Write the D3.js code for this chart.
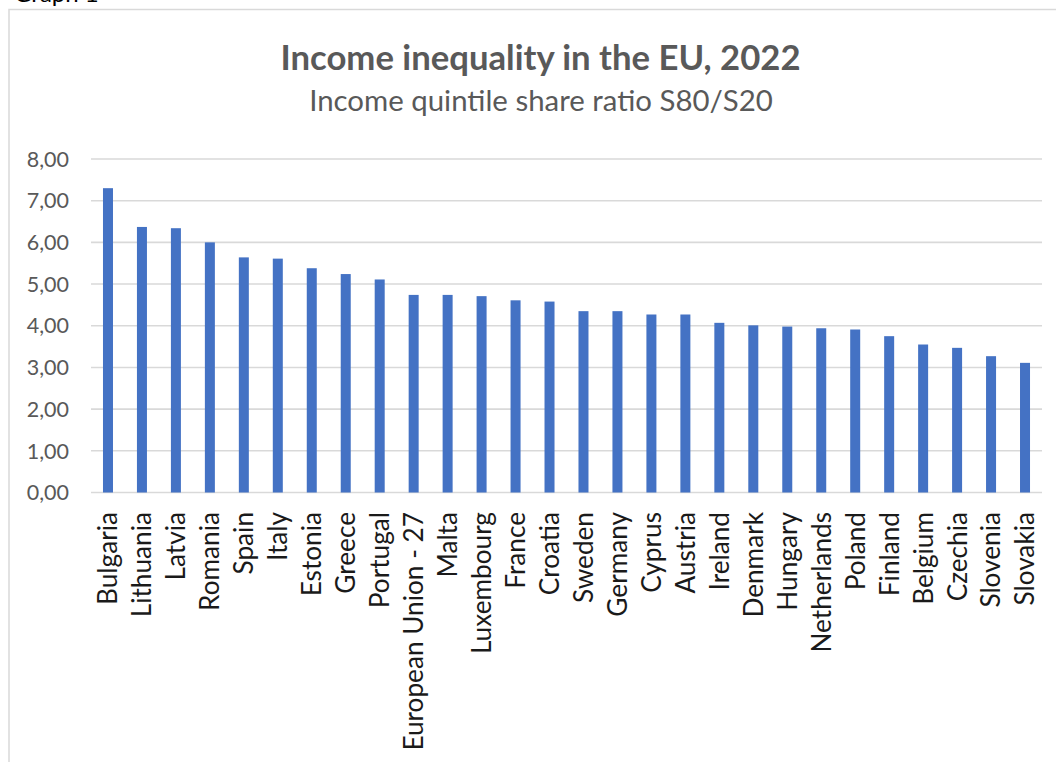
<!DOCTYPE html>
<html>
<head>
<meta charset="utf-8">
<script src="https://cdn.jsdelivr.net/npm/d3@7"></script>
<style>
  html, body { margin: 0; padding: 0; background: #fff; }
  svg { display: block; }
</style>
</head>
<body>
<svg id="chart" width="1056" height="762"></svg>
<script>
// S80/S20 income quintile share ratio, EU member states, 2022
const countries = [
  "Bulgaria", "Lithuania", "Latvia", "Romania", "Spain", "Italy", "Estonia",
  "Greece", "Portugal", "European Union - 27", "Malta", "Luxembourg", "France",
  "Croatia", "Sweden", "Germany", "Cyprus", "Austria", "Ireland", "Denmark",
  "Hungary", "Netherlands", "Poland", "Finland", "Belgium", "Czechia",
  "Slovenia", "Slovakia"
];
const ratios = [
  7.30, 6.37, 6.34, 6.00, 5.64, 5.61, 5.38,
  5.24, 5.11, 4.74, 4.74, 4.71, 4.61,
  4.58, 4.35, 4.35, 4.27, 4.27, 4.07, 4.01,
  3.98, 3.94, 3.91, 3.75, 3.55, 3.47,
  3.27, 3.11
];
const yTicks = [0, 1, 2, 3, 4, 5, 6, 7, 8];

const title = "Income inequality in the EU, 2022";
const subtitle = "Income quintile share ratio S80/S20";

const FONT = "Lato, 'Open Sans', sans-serif";
const svg = d3.select("#chart");

// caption running off the top edge of the sheet
svg.append("text")
  .attr("x", 14).attr("y", 1.5)
  .attr("font-family", FONT).attr("font-size", 24)
  .attr("fill", "#000")
  .text("Graph 1");

// chart area frame (top and left edges visible)
svg.append("path")
  .attr("d", "M9,770 L9,9.5 L1070,9.5")
  .attr("fill", "none")
  .attr("stroke", "#d9d9d9")
  .attr("stroke-width", 1.5);

const plot = { left: 91, right: 1042, top: 159, bottom: 492.5 };

const x = d3.scaleBand()
  .domain(countries)
  .range([plot.left, plot.right])
  .paddingInner(0.7055)
  .paddingOuter(0.7055 / 2);

const y = d3.scaleLinear()
  .domain([0, 8])
  .range([plot.bottom, plot.top]);

// horizontal gridlines
svg.append("g")
  .selectAll("line")
  .data(yTicks)
  .join("line")
  .attr("x1", plot.left).attr("x2", plot.right)
  .attr("y1", d => y(d)).attr("y2", d => y(d))
  .attr("stroke", "#d9d9d9")
  .attr("stroke-width", 1.6);

// y-axis labels, decimal comma
const fmt = d => d3.format(".2f")(d).replace(".", ",");
svg.append("g")
  .selectAll("text")
  .data(yTicks)
  .join("text")
  .attr("x", 69)
  .attr("y", d => y(d))
  .attr("dy", "0.36em")
  .attr("text-anchor", "end")
  .attr("font-family", FONT)
  .attr("font-size", 21.5)
  .attr("fill", "#595959")
  .text(fmt);

// bars
const rows = countries.map((c, i) => ({ country: c, value: ratios[i] }));
svg.append("g")
  .selectAll("rect")
  .data(rows)
  .join("rect")
  .attr("x", d => x(d.country))
  .attr("width", x.bandwidth())
  .attr("y", d => y(d.value))
  .attr("height", d => y(0) - y(d.value))
  .attr("fill", "#4472c4");

// category labels, rotated
svg.append("g")
  .selectAll("text")
  .data(countries)
  .join("text")
  .attr("transform", d => `translate(${x(d) + x.bandwidth() / 2},512) rotate(-90)`)
  .attr("dy", "0.36em")
  .attr("text-anchor", "end")
  .attr("font-family", FONT)
  .attr("font-size", 26.2)
  .attr("fill", "#1a1a1a")
  .text(d => d);

// titles
svg.append("text")
  .attr("x", 540.5).attr("y", 70)
  .attr("text-anchor", "middle")
  .attr("font-family", FONT)
  .attr("font-weight", "bold")
  .attr("font-size", 34.7)
  .attr("fill", "#595959")
  .text(title);

svg.append("text")
  .attr("x", 541).attr("y", 111)
  .attr("text-anchor", "middle")
  .attr("font-family", FONT)
  .attr("font-size", 29.4)
  .attr("fill", "#595959")
  .text(subtitle);
</script>
</body>
</html>
